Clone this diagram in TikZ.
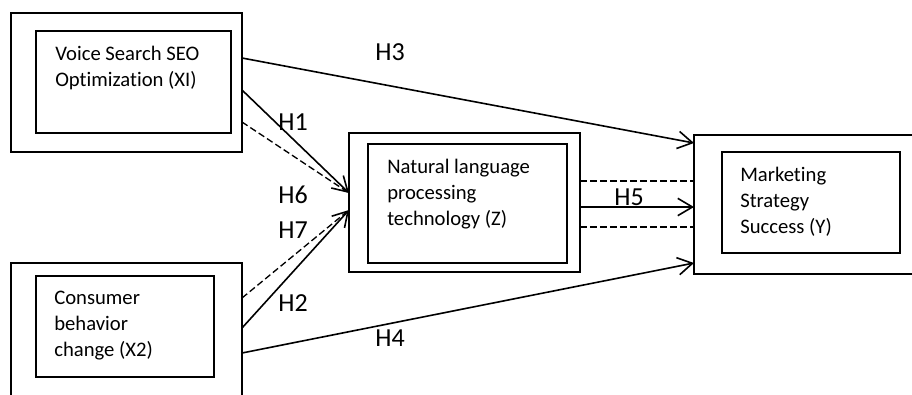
\documentclass[tikz,border=0pt]{standalone}
\usepackage{fontspec}
\setmainfont{Carlito}[Ligatures={NoCommon,NoRequired,NoContextual}]
\usetikzlibrary{calc,arrows.meta}

\begin{document}
\begin{tikzpicture}[x=0.75pt,y=-0.75pt,
  varframe/.style={draw,line width=2pt,minimum width=173.25pt,minimum height=104.25pt,anchor=north west,inner sep=0pt,outer sep=0pt},
  varbox/.style={draw,line width=0.9pt,anchor=north west,inner sep=0pt,outer sep=0pt},
  boxtext/.style={anchor=north west,inner sep=0pt,align=left,font=\fontsize{15.5}{19.5}\selectfont},
  hyp/.style={font=\fontsize{19.5}{23}\selectfont,inner sep=0pt},
  arr/.style={line width=1.2pt,-{Straight Barb[length=11pt,width=13pt]}},
  dsh/.style={line width=1pt,dash pattern=on 5pt off 2.5pt}]
\useasboundingbox (0,0) rectangle (912,394);
\clip (0,0) rectangle (912,394);

% outer frames
\node[varframe] (x1) at (11,13) {};
\node[varframe] (x2) at (11,263) {};
\node[varframe] (z) at (349,133) {};
\node[varframe] (y) at (694,135) {};

% inner boxes and their texts
\node[varbox,minimum width=146.25pt,minimum height=76.5pt] (x1in) at ($(x1.north west)+(25,18)$) {};
\node[varbox,minimum width=133.5pt,minimum height=75.75pt] (x2in) at ($(x2.north west)+(25,13)$) {};
\node[varbox,minimum width=149.25pt,minimum height=89.25pt] (zin) at ($(z.north west)+(19,11)$) {};
\node[varbox,minimum width=133.5pt,minimum height=75.75pt] (yin) at ($(y.north west)+(28,17)$) {};

\node[boxtext] (x1txt) at ($(x1in.north west)+(19,15)$) {Voice Search SEO\\Optimization (XI)};
\node[boxtext] (x2txt) at ($(x2in.north west)+(18,15)$) {Consumer\\behavior\\change (X2)};
\node[boxtext] (ztxt) at ($(zin.north west)+(19,15)$) {Natural language\\processing\\technology (Z)};
\node[boxtext] (ytxt) at ($(yin.north west)+(18,15)$) {Marketing\\Strategy\\Success (Y)};

% hypotheses
\draw[arr] ($(x1.north east)+(0,45)$) -- ($(y.north west)+(0,8)$);
\draw[arr] ($(x1.north east)+(0,77)$) -- ($(z.north west)+(0,60)$);
\draw[dsh] ($(x1.north east)+(0,109)$) -- ($(z.north west)+(0,60)$);
\draw[dsh] ($(x2.north east)+(0,35)$) -- ($(z.north west)+(0,77)$);
\draw[arr] ($(x2.north east)+(0,65)$) -- ($(z.north west)+(0,77)$);
\draw[arr] ($(x2.north east)+(0,90)$) -- ($(y.north west)+(0,128)$);
\draw[arr] ($(z.north east)+(0,74)$) -- ($(y.north west)+(0,72)$);
\draw[dsh] ($(z.north east)+(0,48)$) -- ($(y.north west)+(0,46)$);
\draw[dsh] ($(z.north east)+(0,94)$) -- ($(y.north west)+(0,92)$);

\node[hyp] (h3) at (390,52) {H3};
\node[hyp] (h1) at (293,122) {H1};
\node[hyp] (h6) at (293,195) {H6};
\node[hyp] (h7) at (293,230) {H7};
\node[hyp] (h2) at (293,303) {H2};
\node[hyp] (h4) at (390,338) {H4};
\node[hyp] (h5) at (629,197) {H5};
\end{tikzpicture}
\end{document}
